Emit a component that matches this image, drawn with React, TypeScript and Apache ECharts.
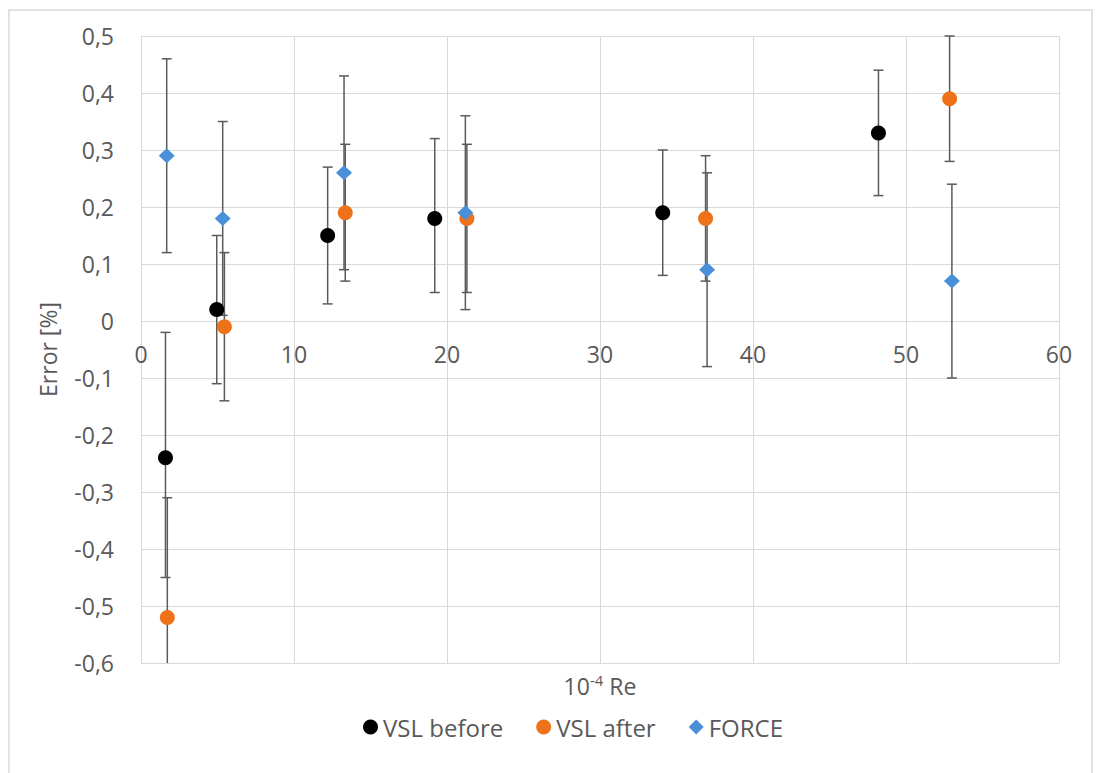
import React, { useEffect, useRef } from "react";
import * as echarts from "echarts";

const xTicks = [0, 10, 20, 30, 40, 50, 60];

const vslBeforeX = [1.6, 4.95, 12.2, 19.2, 34.1, 48.2];
const vslBeforeY = [-0.24, 0.02, 0.15, 0.18, 0.19, 0.33];
const vslBeforeLow = [-0.45, -0.11, 0.03, 0.05, 0.08, 0.22];
const vslBeforeHigh = [-0.02, 0.15, 0.27, 0.32, 0.3, 0.44];

const vslAfterX = [1.72, 5.45, 13.35, 21.3, 36.9, 52.85];
const vslAfterY = [-0.52, -0.01, 0.19, 0.18, 0.18, 0.39];
const vslAfterLow = [-0.73, -0.14, 0.07, 0.05, 0.07, 0.28];
const vslAfterHigh = [-0.31, 0.12, 0.31, 0.31, 0.29, 0.5];

const forceX = [1.68, 5.34, 13.27, 21.2, 37.0, 53.0];
const forceY = [0.29, 0.18, 0.26, 0.19, 0.09, 0.07];
const forceLow = [0.12, 0.01, 0.09, 0.02, -0.08, -0.1];
const forceHigh = [0.46, 0.35, 0.43, 0.36, 0.26, 0.24];

const FONT = "Open Sans";
const TXT = "#595959";
const GRID = "#d9d9d9";
const BAR = "#5a5a5a";

function errorRender(params: any, api: any) {
  const x = api.value(0);
  const lo = api.value(1);
  const hi = api.value(2);
  const pLo = api.coord([x, lo]);
  const pHi = api.coord([x, hi]);
  const cs = params.coordSys;
  const top = cs.y;
  const bottom = cs.y + cs.height;
  const px = pLo[0];
  const yHi = Math.max(pHi[1], top);
  const yLo = Math.min(pLo[1], bottom);
  const style = { stroke: BAR, lineWidth: 1.5 };
  const children: any[] = [
    { type: "line", shape: { x1: px, y1: yHi, x2: px, y2: yLo }, style },
  ];
  const hw = 5;
  if (pHi[1] >= top - 0.5) {
    children.push({ type: "line", shape: { x1: px - hw, y1: pHi[1], x2: px + hw, y2: pHi[1] }, style });
  }
  if (pLo[1] <= bottom + 0.5) {
    children.push({ type: "line", shape: { x1: px - hw, y1: pLo[1], x2: px + hw, y2: pLo[1] }, style });
  }
  return { type: "group", children };
}

function errSeries(name: string, xs: number[], lows: number[], highs: number[]) {
  return {
    name,
    type: "custom",
    renderItem: errorRender,
    data: xs.map((x, i) => [x, lows[i], highs[i]]),
    encode: { x: 0, y: [1, 2] },
    z: 1,
    silent: true,
  };
}

export default function App() {
  const ref = useRef<HTMLDivElement>(null);
  useEffect(() => {
    document.body.style.margin = "0";
    const chart = echarts.init(ref.current!, null, { renderer: "svg" });
    chart.setOption({
      animation: false,
      backgroundColor: "#ffffff",
      textStyle: { fontFamily: FONT },
      grid: { left: 141, right: 39, top: 36, bottom: 110, containLabel: false },
      legend: {
        top: 710,
        left: 358,
        itemWidth: 15,
        itemHeight: 15,
        itemGap: 33,
        textStyle: { fontFamily: FONT, fontSize: 24, color: TXT },
        data: [
          { name: "VSL before", icon: "circle" },
          { name: "VSL after", icon: "circle" },
          { name: "FORCE", icon: "diamond" },
        ],
      },
      xAxis: {
        type: "value",
        min: xTicks[0],
        max: xTicks[xTicks.length - 1],
        interval: 10,
        offset: -342,
        axisLine: { show: true, onZero: false, lineStyle: { color: GRID, width: 1 } },
        axisTick: { show: false },
        axisLabel: { fontFamily: FONT, fontSize: 23, color: TXT, margin: 21 },
        splitLine: { show: true, lineStyle: { color: GRID, width: 1 } },
      },
      yAxis: {
        type: "value",
        min: -0.6,
        max: 0.5,
        interval: 0.1,
        name: "Error [%]",
        nameLocation: "middle",
        nameGap: 82,
        nameTextStyle: { fontFamily: FONT, fontSize: 23, color: TXT },
        axisLine: { show: true, lineStyle: { color: GRID, width: 1 } },
        axisTick: { show: false },
        axisLabel: {
          fontFamily: FONT,
          fontSize: 23,
          color: TXT,
          margin: 27,
          formatter: (v: number) => (Math.abs(v) < 1e-9 ? "0" : v.toFixed(1).replace(".", ",")),
        },
        splitLine: { show: true, lineStyle: { color: GRID, width: 1 } },
      },
      graphic: [
        {
          type: "rect",
          shape: { x: 9, y: 10, width: 1083, height: 800 },
          style: { fill: "none", stroke: GRID, lineWidth: 1.5 },
          silent: true,
          z: -10,
        },
        {
          type: "text",
          x: 600,
          y: 686,
          style: {
            text: "10{sup|-4} Re",
            fontFamily: FONT,
            fontSize: 23,
            fill: TXT,
            align: "center",
            verticalAlign: "middle",
            rich: {
              sup: { fontSize: 15, fontFamily: FONT, fill: TXT, verticalAlign: "top", padding: [0, 0, 12, 0] },
            },
          },
        },
      ],
      series: [
        errSeries("errBefore", vslBeforeX, vslBeforeLow, vslBeforeHigh),
        errSeries("errAfter", vslAfterX, vslAfterLow, vslAfterHigh),
        errSeries("errForce", forceX, forceLow, forceHigh),
        {
          name: "VSL before",
          type: "scatter",
          symbol: "circle",
          symbolSize: 15,
          itemStyle: { color: "#000000", opacity: 1 },
          data: vslBeforeX.map((x, i) => [x, vslBeforeY[i]]),
          z: 3,
        },
        {
          name: "VSL after",
          type: "scatter",
          symbol: "circle",
          symbolSize: 15,
          itemStyle: { color: "#EE7219", opacity: 1 },
          data: vslAfterX.map((x, i) => [x, vslAfterY[i]]),
          z: 3,
        },
        {
          name: "FORCE",
          type: "scatter",
          symbol: "diamond",
          symbolSize: [16, 15],
          itemStyle: { color: "#4A90D9", opacity: 1 },
          data: forceX.map((x, i) => [x, forceY[i]]),
          z: 3,
        },
      ],
    });
    return () => chart.dispose();
  }, []);
  return <div ref={ref} style={{ width: 1098, height: 773 }} />;
}
